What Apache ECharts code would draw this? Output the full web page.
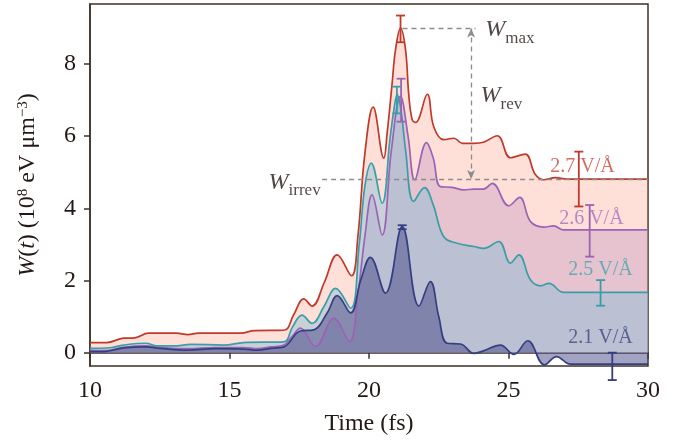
<!DOCTYPE html>
<html>
<head>
<meta charset="utf-8">
<script src="https://cdn.jsdelivr.net/npm/echarts@6/dist/echarts.min.js"></script>
<style>
  html, body { margin: 0; padding: 0; background: #fff; }
  #chart { width: 691px; height: 442px; }
</style>
</head>
<body>
<div id="chart"></div>
<script>
// W(t) curves, [time fs, W in 1e8 eV um^-3]
const field27 = [
  [10.0, 0.28], [10.6, 0.28], [11.2, 0.40], [11.6, 0.41], [12.1, 0.54], [13.1, 0.54], [13.5, 0.50],
  [13.9, 0.54], [15.4, 0.54], [15.9, 0.61], [16.95, 0.62], [17.3, 1.05], [17.66, 1.49], [17.96, 1.29],
  [18.4, 1.95], [18.86, 2.71], [19.37, 2.13], [19.6, 3.2], [19.85, 5.5], [20.15, 6.80], [20.53, 5.39],
  [20.65, 6.08], [20.83, 7.47], [20.95, 8.39], [21.13, 8.99], [21.31, 8.39], [21.43, 7.1], [21.55, 6.45],
  [21.67, 6.38], [22.09, 7.16], [22.32, 6.26], [22.68, 5.9], [23.04, 5.94], [23.35, 5.80], [23.75, 5.80],
  [24.1, 5.83], [24.6, 6.01], [25.07, 5.40], [25.6, 5.50], [25.95, 4.95], [26.25, 4.79], [26.68, 4.85],
  [27.1, 4.81], [30.0, 4.81]
];
const field26 = [
  [10.0, 0.06], [10.6, 0.06], [11.2, 0.15], [12.0, 0.19], [12.5, 0.15], [13.5, 0.11], [14.5, 0.14],
  [15.5, 0.14], [16.0, 0.11], [16.5, 0.16], [16.95, 0.21], [17.25, 0.45], [17.54, 0.68], [18.08, 0.17],
  [18.74, 0.95], [19.3, 0.31], [19.6, 1.6], [19.85, 3.2], [20.11, 4.37], [20.47, 3.26], [20.8, 5.6],
  [21.13, 7.10], [21.4, 6.0], [21.64, 4.79], [22.06, 5.82], [22.3, 5.4], [22.56, 4.60], [22.98, 4.58],
  [23.4, 4.51], [23.76, 4.53], [24.1, 4.53], [24.42, 4.69], [25.01, 4.07], [25.4, 4.30], [25.79, 3.63],
  [26.27, 3.48], [26.62, 3.51], [26.98, 3.40], [30.0, 3.40]
];
const field25 = [
  [10.0, 0.12], [10.7, 0.135], [11.2, 0.21], [12.0, 0.26], [12.4, 0.19], [13.1, 0.19], [13.6, 0.23],
  [14.8, 0.21], [15.5, 0.28], [16.95, 0.30], [17.25, 0.7], [17.6, 1.04], [17.96, 0.81], [18.4, 1.3],
  [18.8, 1.78], [19.34, 1.23], [19.65, 3.0], [19.85, 4.6], [20.08, 5.25], [20.47, 4.14], [20.75, 5.9],
  [20.89, 6.72], [21.01, 7.16], [21.15, 6.7], [21.31, 5.62], [21.6, 4.19], [21.99, 4.57], [22.3, 4.1],
  [22.68, 3.21], [23.16, 3.03], [23.76, 2.94], [24.11, 2.89], [24.65, 3.08], [25.07, 2.48], [25.37, 2.71],
  [25.79, 2.01], [26.15, 1.85], [26.45, 1.92], [26.98, 1.67], [30.0, 1.67]
];
const field21 = [
  [10.0, 0.03], [10.5, 0.03], [11.2, 0.13], [12.0, 0.16], [12.5, 0.12], [13.5, 0.07], [14.5, 0.11],
  [15.5, 0.10], [16.0, 0.07], [16.5, 0.12], [16.95, 0.16], [17.54, 0.60], [18.02, 0.63], [18.5, 1.1],
  [18.86, 1.58], [19.34, 1.10], [19.7, 2.0], [20.05, 2.64], [20.59, 1.65], [21.19, 3.49], [21.79, 1.29],
  [22.2, 1.97], [22.5, 1.0], [22.8, 0.26], [23.28, 0.24], [23.76, -0.02], [24.1, 0.05], [24.71, 0.21],
  [25.19, -0.05], [25.69, 0.33], [26.29, -0.34], [26.72, -0.11], [27.22, -0.32], [30.0, -0.32]
];

// error bars: [time, low, high]
const err27 = [[21.13, 8.60, 9.34], [27.52, 4.05, 5.57]];
const err26 = [[21.15, 6.40, 7.59], [27.91, 2.66, 4.09]];
const err25 = [[21.0, 6.63, 7.37], [28.3, 1.30, 2.01]];
const err21 = [[21.19, 3.42, 3.53], [28.72, -0.76, 0.0]];

const fieldNames = ['2.7 V/Å', '2.6 V/Å', '2.5 V/Å', '2.1 V/Å'];
const fieldLabelAt = [[27.65, 5.15], [27.97, 3.71], [28.3, 2.29], [28.3, 0.41]];

// W_max / W_irrev levels and the annotation anchors
const wMax = 8.98;
const wIrrev = 4.81;
const wLabels = [
  { sub: 'max', at: [24.17, 8.95] },
  { sub: 'rev', at: [24.0, 7.11] },
  { sub: 'irrev', at: [16.4, 4.72] }
];

const xTicks = [10, 15, 20, 25, 30];
const yTicks = [0, 2, 4, 6, 8];

const FONT = 'Liberation Serif, Times New Roman, serif';
const INK = '#231815';
const AXIS = '#3d3128';

const chart = echarts.init(document.getElementById('chart'), null, { renderer: 'canvas' });

function curve(name, data, line, fill) {
  return {
    type: 'line',
    name,
    data,
    smooth: 0.4,
    symbol: 'none',
    lineStyle: { color: line, width: 1.7 },
    areaStyle: { color: fill, opacity: 1, origin: 0 },
    silent: true,
    z: 2
  };
}

function errorBars(data, color) {
  return {
    type: 'custom',
    data,
    encode: { x: 0, y: [1, 2] },
    clip: false,
    silent: true,
    z: 4,
    renderItem(params, api) {
      const lo = api.coord([api.value(0), api.value(1)]);
      const hi = api.coord([api.value(0), api.value(2)]);
      const half = 4.5;
      const style = { stroke: color, lineWidth: 1.8, fill: null };
      return {
        type: 'group',
        children: [
          { type: 'line', shape: { x1: lo[0], y1: lo[1], x2: hi[0], y2: hi[1] }, style },
          { type: 'line', shape: { x1: hi[0] - half, y1: hi[1], x2: hi[0] + half, y2: hi[1] }, style },
          { type: 'line', shape: { x1: lo[0] - half, y1: lo[1], x2: lo[0] + half, y2: lo[1] }, style }
        ]
      };
    }
  };
}

const lineColors = ['#c0392b', '#9b62b5', '#3a9ea8', '#343f83'];
const textColors = ['#c8473b', '#a470c0', '#45a6af', '#3c4783'];

const dashed = { color: '#8c8c8c', width: 1.3, type: [5, 4] };

chart.setOption({
  animation: false,
  backgroundColor: '#fff',
  grid: { left: 90, right: 43, top: 4, bottom: 76, show: true, borderColor: AXIS, borderWidth: 1.5 },
  xAxis: {
    type: 'value',
    min: 10,
    max: 30,
    interval: 5,
    name: 'Time (fs)',
    nameLocation: 'middle',
    nameGap: 46,
    nameTextStyle: { fontFamily: FONT, fontSize: 24, color: INK },
    axisLine: { lineStyle: { color: AXIS, width: 1.5 } },
    axisTick: { inside: false, length: 6, customValues: xTicks, lineStyle: { color: AXIS, width: 1.5 } },
    axisLabel: { fontFamily: FONT, fontSize: 24, color: INK, margin: 13, customValues: xTicks },
    splitLine: { show: false }
  },
  yAxis: {
    type: 'value',
    min: -0.37,
    max: 9.66,
    name: '{i|W}{n|(}{i|t}{n|) (10}{s|8}{n| eV μm}{s|−3}{n|)}',
    nameLocation: 'middle',
    nameGap: 50,
    nameTextStyle: {
      color: INK,
      rich: {
        n: { fontFamily: FONT, fontSize: 24, lineHeight: 24, verticalAlign: 'top', color: INK },
        i: { fontFamily: FONT, fontSize: 24, lineHeight: 24, verticalAlign: 'top', fontStyle: 'italic', color: INK },
        s: { fontFamily: FONT, fontSize: 15, lineHeight: 15, verticalAlign: 'top', color: INK }
      }
    },
    axisLine: { lineStyle: { color: AXIS, width: 1.5 } },
    axisTick: { inside: false, length: 6, customValues: yTicks, lineStyle: { color: AXIS, width: 1.5 } },
    axisLabel: { fontFamily: FONT, fontSize: 24, color: INK, margin: 14, customValues: yTicks },
    splitLine: { show: false }
  },
  series: [
    curve(fieldNames[0], field27, lineColors[0], 'rgba(250,140,110,0.27)'),
    curve(fieldNames[1], field26, lineColors[1], 'rgba(187,141,188,0.35)'),
    curve(fieldNames[2], field25, lineColors[2], 'rgba(135,190,215,0.45)'),
    curve(fieldNames[3], field21, lineColors[3], 'rgba(70,72,135,0.5)'),
    {
      type: 'line',
      data: [],
      silent: true,
      z: 3,
      markLine: {
        silent: true,
        label: { show: false },
        lineStyle: dashed,
        symbol: 'none',
        data: [
          [{ coord: [21.2, wMax] }, { coord: [23.82, wMax] }],
          [{ coord: [18.32, wIrrev] }, { coord: [30, wIrrev] }],
          [
            { coord: [23.66, wMax], symbol: 'arrow', symbolSize: [6, 9] },
            { coord: [23.66, wIrrev], symbol: 'arrow', symbolSize: [6, 9] }
          ]
        ]
      }
    },
    errorBars(err27, lineColors[0]),
    errorBars(err26, lineColors[1]),
    errorBars(err25, lineColors[2]),
    errorBars(err21, lineColors[3]),
    {
      type: 'scatter',
      symbolSize: 0,
      silent: true,
      z: 6,
      data: fieldNames.map((n, i) => ({
        name: n,
        value: fieldLabelAt[i],
        label: { color: textColors[i] }
      })),
      label: {
        show: true,
        position: 'inside',
        fontFamily: FONT,
        fontSize: 20,
        formatter: p => p.name
      }
    },
    {
      type: 'scatter',
      symbolSize: 0,
      silent: true,
      z: 6,
      data: wLabels.map(w => ({ name: w.sub, value: w.at })),
      label: {
        show: true,
        position: 'right',
        distance: 0,
        formatter: p => '{w|W}{s|' + p.name + '}',
        rich: {
          w: { fontFamily: FONT, fontSize: 24, lineHeight: 24, fontStyle: 'italic', verticalAlign: 'top', color: INK },
          s: { fontFamily: FONT, fontSize: 17, lineHeight: 17, padding: [12, 0, 0, 0], verticalAlign: 'top', color: INK }
        }
      }
    }
  ]
});
</script>
</body>
</html>
